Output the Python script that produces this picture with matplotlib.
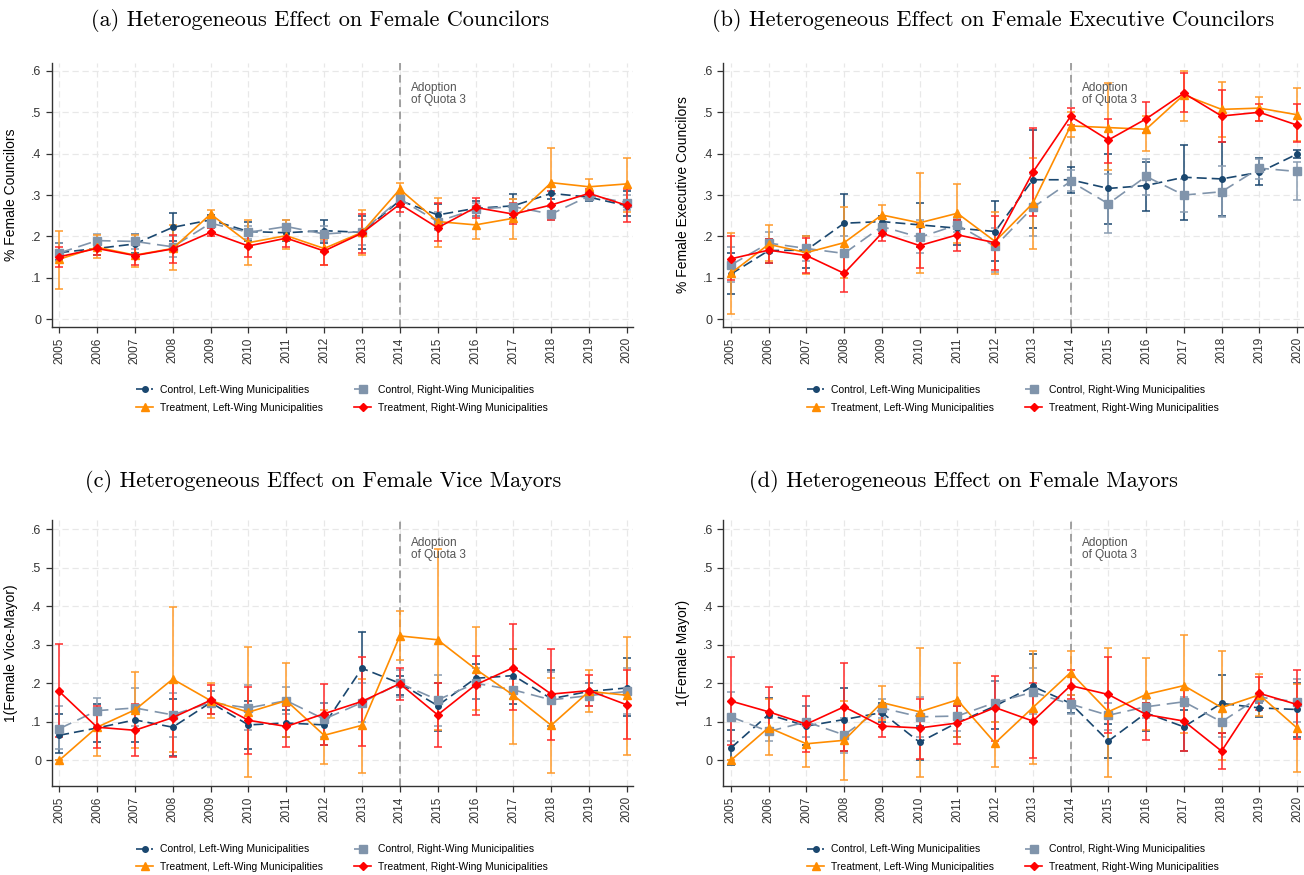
import matplotlib
matplotlib.use("Agg")
import matplotlib.pyplot as plt

plt.rcParams["font.family"] = ["Liberation Sans", "DejaVu Sans"]

YEARS = list(range(2005, 2021))
YTICKS = [0, 0.1, 0.2, 0.3, 0.4, 0.5, 0.6]
YTICK_LABELS = ["0", ".1", ".2", ".3", ".4", ".5", ".6"]
LEGEND_LABELS = [
    "Control, Left-Wing Municipalities",
    "Control, Right-Wing Municipalities",
    "Treatment, Left-Wing Municipalities",
    "Treatment, Right-Wing Municipalities",
]
ADOPTION_YEAR = 2014
ADOPTION_TEXT = "Adoption\nof Quota 3"

# (a) female councilors
A_CL = [0.161, 0.171, 0.182, 0.222, 0.240, 0.212, 0.209, 0.214, 0.210, 0.287, 0.252, 0.268, 0.274, 0.304, 0.295, 0.274]
A_CL_LO = [0.143, 0.155, 0.161, 0.188, 0.224, 0.190, 0.190, 0.185, 0.170, 0.270, 0.230, 0.250, 0.245, 0.290, 0.285, 0.250]
A_CL_HI = [0.185, 0.190, 0.206, 0.256, 0.252, 0.235, 0.230, 0.240, 0.250, 0.300, 0.278, 0.285, 0.302, 0.320, 0.305, 0.310]
A_CR = [0.160, 0.190, 0.188, 0.175, 0.232, 0.210, 0.224, 0.206, 0.212, 0.290, 0.236, 0.266, 0.272, 0.254, 0.298, 0.282]
A_CR_LO = [0.140, 0.175, 0.170, 0.150, 0.220, 0.195, 0.210, 0.190, 0.180, 0.275, 0.215, 0.250, 0.255, 0.240, 0.290, 0.265]
A_CR_HI = [0.185, 0.205, 0.205, 0.200, 0.245, 0.225, 0.240, 0.225, 0.240, 0.305, 0.260, 0.280, 0.290, 0.270, 0.310, 0.300]
A_TL = [0.145, 0.174, 0.155, 0.171, 0.254, 0.185, 0.202, 0.171, 0.210, 0.314, 0.236, 0.228, 0.244, 0.330, 0.320, 0.327]
A_TL_LO = [0.072, 0.147, 0.126, 0.119, 0.241, 0.130, 0.170, 0.130, 0.155, 0.300, 0.175, 0.193, 0.194, 0.250, 0.300, 0.260]
A_TL_HI = [0.214, 0.204, 0.204, 0.228, 0.264, 0.240, 0.240, 0.195, 0.263, 0.330, 0.292, 0.260, 0.290, 0.413, 0.340, 0.390]
A_TR = [0.151, 0.171, 0.154, 0.170, 0.210, 0.177, 0.196, 0.165, 0.208, 0.278, 0.221, 0.270, 0.254, 0.276, 0.304, 0.275]
A_TR_LO = [0.127, 0.155, 0.131, 0.137, 0.200, 0.150, 0.175, 0.130, 0.160, 0.260, 0.190, 0.245, 0.230, 0.240, 0.290, 0.234]
A_TR_HI = [0.175, 0.190, 0.180, 0.204, 0.220, 0.205, 0.220, 0.200, 0.255, 0.290, 0.280, 0.294, 0.280, 0.310, 0.315, 0.314]

# (b) female executive councilors
B_CL = [0.109, 0.166, 0.167, 0.232, 0.236, 0.228, 0.220, 0.212, 0.337, 0.337, 0.316, 0.323, 0.343, 0.339, 0.355, 0.399]
B_CL_LO = [0.060, 0.137, 0.125, 0.165, 0.220, 0.175, 0.180, 0.140, 0.220, 0.305, 0.230, 0.262, 0.240, 0.250, 0.325, 0.390]
B_CL_HI = [0.160, 0.195, 0.200, 0.302, 0.250, 0.280, 0.240, 0.285, 0.457, 0.367, 0.400, 0.380, 0.421, 0.427, 0.390, 0.410]
B_CR = [0.131, 0.184, 0.171, 0.159, 0.224, 0.198, 0.228, 0.176, 0.270, 0.333, 0.279, 0.345, 0.300, 0.308, 0.365, 0.357]
B_CR_LO = [0.090, 0.160, 0.140, 0.115, 0.200, 0.160, 0.210, 0.115, 0.200, 0.310, 0.209, 0.300, 0.260, 0.248, 0.340, 0.288]
B_CR_HI = [0.175, 0.210, 0.200, 0.200, 0.245, 0.240, 0.245, 0.220, 0.350, 0.360, 0.350, 0.387, 0.340, 0.370, 0.387, 0.380]
B_TL = [0.111, 0.181, 0.161, 0.185, 0.252, 0.233, 0.256, 0.188, 0.280, 0.467, 0.463, 0.459, 0.542, 0.507, 0.510, 0.494]
B_TL_LO = [0.013, 0.140, 0.110, 0.100, 0.230, 0.112, 0.185, 0.110, 0.169, 0.440, 0.360, 0.407, 0.480, 0.440, 0.480, 0.430]
B_TL_HI = [0.208, 0.228, 0.200, 0.272, 0.276, 0.354, 0.327, 0.260, 0.390, 0.500, 0.570, 0.490, 0.600, 0.574, 0.536, 0.558]
B_TR = [0.146, 0.167, 0.154, 0.111, 0.208, 0.178, 0.204, 0.185, 0.355, 0.490, 0.433, 0.484, 0.546, 0.491, 0.500, 0.469]
B_TR_LO = [0.095, 0.135, 0.112, 0.067, 0.190, 0.123, 0.165, 0.120, 0.250, 0.470, 0.378, 0.450, 0.500, 0.427, 0.480, 0.427]
B_TR_HI = [0.200, 0.195, 0.197, 0.155, 0.225, 0.230, 0.240, 0.250, 0.461, 0.511, 0.483, 0.526, 0.594, 0.554, 0.520, 0.520]

# (c) female vice mayors
C_CL = [0.065, 0.084, 0.105, 0.086, 0.150, 0.092, 0.097, 0.092, 0.239, 0.200, 0.142, 0.213, 0.220, 0.160, 0.179, 0.188]
C_CL_LO = [0.020, 0.047, 0.047, 0.010, 0.120, 0.030, 0.060, 0.040, 0.145, 0.170, 0.075, 0.159, 0.147, 0.090, 0.160, 0.114]
C_CL_HI = [0.120, 0.145, 0.140, 0.160, 0.180, 0.155, 0.130, 0.150, 0.334, 0.220, 0.200, 0.250, 0.290, 0.235, 0.200, 0.265]
C_CR = [0.082, 0.129, 0.136, 0.118, 0.150, 0.136, 0.155, 0.107, 0.150, 0.200, 0.157, 0.200, 0.183, 0.157, 0.168, 0.179]
C_CR_LO = [0.030, 0.090, 0.090, 0.060, 0.120, 0.080, 0.120, 0.060, 0.100, 0.165, 0.090, 0.160, 0.160, 0.090, 0.140, 0.120]
C_CR_HI = [0.140, 0.163, 0.188, 0.175, 0.180, 0.195, 0.190, 0.150, 0.200, 0.235, 0.222, 0.240, 0.210, 0.230, 0.200, 0.240]
C_TL = [0.000, 0.086, 0.131, 0.211, 0.155, 0.125, 0.155, 0.065, 0.091, 0.323, 0.313, 0.237, 0.169, 0.091, 0.179, 0.169]
C_TL_LO = [0.000, 0.010, 0.032, 0.021, 0.111, -0.043, 0.060, -0.009, -0.033, 0.261, 0.080, 0.130, 0.043, -0.033, 0.125, 0.013]
C_TL_HI = [0.000, 0.136, 0.229, 0.399, 0.202, 0.293, 0.252, 0.130, 0.210, 0.388, 0.548, 0.347, 0.290, 0.215, 0.235, 0.320]
C_TR = [0.179, 0.086, 0.078, 0.111, 0.156, 0.104, 0.088, 0.121, 0.153, 0.199, 0.118, 0.196, 0.241, 0.172, 0.181, 0.144]
C_TR_LO = [0.060, 0.032, 0.012, 0.008, 0.120, 0.016, 0.035, 0.040, 0.038, 0.157, 0.035, 0.117, 0.130, 0.054, 0.140, 0.056]
C_TR_HI = [0.302, 0.142, 0.145, 0.200, 0.195, 0.190, 0.140, 0.199, 0.268, 0.241, 0.200, 0.271, 0.354, 0.289, 0.222, 0.235]

# (d) female mayors
D_CL = [0.032, 0.119, 0.089, 0.106, 0.124, 0.047, 0.098, 0.141, 0.192, 0.148, 0.050, 0.123, 0.087, 0.148, 0.136, 0.132]
D_CL_LO = [-0.012, 0.070, 0.040, 0.025, 0.100, 0.000, 0.060, 0.082, 0.100, 0.124, 0.006, 0.076, 0.025, 0.070, 0.113, 0.060]
D_CL_HI = [0.080, 0.163, 0.140, 0.187, 0.150, 0.090, 0.140, 0.205, 0.277, 0.170, 0.095, 0.150, 0.130, 0.222, 0.150, 0.200]
D_CR = [0.113, 0.075, 0.100, 0.066, 0.136, 0.113, 0.115, 0.150, 0.177, 0.146, 0.117, 0.139, 0.152, 0.100, 0.164, 0.152]
D_CR_LO = [0.050, 0.050, 0.060, 0.020, 0.110, 0.060, 0.075, 0.100, 0.120, 0.120, 0.080, 0.110, 0.140, 0.060, 0.150, 0.100]
D_CR_HI = [0.178, 0.110, 0.141, 0.110, 0.160, 0.165, 0.155, 0.205, 0.240, 0.170, 0.150, 0.160, 0.165, 0.140, 0.170, 0.210]
D_TL = [0.000, 0.085, 0.043, 0.052, 0.150, 0.126, 0.157, 0.045, 0.137, 0.228, 0.126, 0.171, 0.194, 0.137, 0.170, 0.084]
D_TL_LO = [0.000, 0.014, -0.017, -0.051, 0.105, -0.042, 0.060, -0.017, -0.010, 0.170, -0.043, 0.080, 0.070, 0.000, 0.115, -0.030]
D_TL_HI = [0.000, 0.160, 0.100, 0.155, 0.193, 0.292, 0.253, 0.100, 0.283, 0.283, 0.292, 0.266, 0.325, 0.283, 0.225, 0.198]
D_TR = [0.154, 0.126, 0.094, 0.139, 0.089, 0.084, 0.097, 0.137, 0.102, 0.194, 0.171, 0.119, 0.102, 0.024, 0.174, 0.145]
D_TR_LO = [0.040, 0.065, 0.022, 0.025, 0.060, 0.003, 0.043, 0.050, 0.006, 0.160, 0.072, 0.054, 0.023, -0.023, 0.130, 0.056]
D_TR_HI = [0.269, 0.190, 0.167, 0.253, 0.120, 0.158, 0.140, 0.220, 0.200, 0.235, 0.268, 0.150, 0.183, 0.072, 0.216, 0.234]

# series styles: control-left, control-right, treatment-left, treatment-right
STYLES = [
    dict(color="#1a476f", ls=(0, (6, 3)), marker="o", ms=4, ecolor="#1a476f"),
    dict(color="#8094ab", ls=(0, (8, 4)), marker="s", ms=5.5, ecolor="#8a9db2"),
    dict(color="#ff8c00", ls="-", marker="^", ms=5.5, ecolor="#ff9a2a"),
    dict(color="#ff0000", ls="-", marker="D", ms=4.5, ecolor="#ff2a2a"),
]

PANELS = [
    dict(title="(a) Heterogeneous Effect on Female Councilors", ylabel="% Female Councilors",
         series=[(A_CL, A_CL_LO, A_CL_HI), (A_CR, A_CR_LO, A_CR_HI), (A_TL, A_TL_LO, A_TL_HI), (A_TR, A_TR_LO, A_TR_HI)],
         rect=[0.0396, 0.6266, 0.4458, 0.3014], ylim=(-0.018, 0.619), title_xy=(0.2454, 0.977)),
    dict(title="(b) Heterogeneous Effect on Female Executive Councilors", ylabel="% Female Executive Councilors",
         series=[(B_CL, B_CL_LO, B_CL_HI), (B_CR, B_CR_LO, B_CR_HI), (B_TL, B_TL_LO, B_TL_HI), (B_TR, B_TR_LO, B_TR_HI)],
         rect=[0.5547, 0.6266, 0.4446, 0.3014], ylim=(-0.018, 0.619), title_xy=(0.7615, 0.977)),
    dict(title="(c) Heterogeneous Effect on Female Vice Mayors", ylabel="1(Female Vice-Mayor)",
         series=[(C_CL, C_CL_LO, C_CL_HI), (C_CR, C_CR_LO, C_CR_HI), (C_TL, C_TL_LO, C_TL_HI), (C_TR, C_TR_LO, C_TR_HI)],
         rect=[0.0396, 0.102, 0.4458, 0.3037], ylim=(-0.066, 0.624), title_xy=(0.2477, 0.450)),
    dict(title="(d) Heterogeneous Effect on Female Mayors", ylabel="1(Female Mayor)",
         series=[(D_CL, D_CL_LO, D_CL_HI), (D_CR, D_CR_LO, D_CR_HI), (D_TL, D_TL_LO, D_TL_HI), (D_TR, D_TR_LO, D_TR_HI)],
         rect=[0.5547, 0.102, 0.4446, 0.3037], ylim=(-0.066, 0.624), title_xy=(0.7385, 0.450)),
]

fig = plt.figure(figsize=(13.04, 8.75), dpi=100)

for panel in PANELS:
    ax = fig.add_axes(panel["rect"])
    handles = []
    for (vals, lo, hi), st, label in zip(panel["series"], STYLES, LEGEND_LABELS):
        # confidence intervals with caps
        ax.vlines(YEARS, lo, hi, color=st["ecolor"], lw=1.1, zorder=2)
        ax.plot(YEARS, lo, ls="none", marker="_", ms=6, mew=1.1, color=st["ecolor"], zorder=2)
        ax.plot(YEARS, hi, ls="none", marker="_", ms=6, mew=1.1, color=st["ecolor"], zorder=2)
        line, = ax.plot(YEARS, vals, color=st["color"], ls=st["ls"], lw=1.2,
                        marker=st["marker"], ms=st["ms"], mec=st["color"], mfc=st["color"],
                        label=label, zorder=3)
        handles.append(line)

    ax.axvline(ADOPTION_YEAR, color="#8a8a8a", ls=(0, (5, 3)), lw=1.1, zorder=1)
    ax.text(ADOPTION_YEAR + 0.29, panel["ylim"][1] - 0.045, ADOPTION_TEXT, fontsize=8.5,
            color="#555555", va="top", ha="left", linespacing=1.0)

    ax.set_xlim(2004.8, 2020.16)
    ax.set_ylim(*panel["ylim"])
    ax.set_xticks(YEARS)
    ax.set_xticklabels([str(y) for y in YEARS], rotation=90, fontsize=8.5)
    ax.set_yticks(YTICKS)
    ax.set_yticklabels(YTICK_LABELS, fontsize=9)
    ax.grid(True, color="#e8e8e8", ls=(0, (5, 3)), lw=0.9, zorder=0)
    ax.set_axisbelow(True)
    for side in ("top", "right"):
        ax.spines[side].set_visible(False)
    for side in ("left", "bottom"):
        ax.spines[side].set_color("#333333")
        ax.spines[side].set_linewidth(1.0)
    ax.tick_params(colors="#333333", length=4, width=0.9)
    ax.set_ylabel(panel["ylabel"], fontsize=10)
    ax.yaxis.set_label_coords(-0.058, 0.5)

    ax.legend([handles[0], handles[2], handles[1], handles[3]],
              [LEGEND_LABELS[0], LEGEND_LABELS[2], LEGEND_LABELS[1], LEGEND_LABELS[3]],
              ncol=2, loc="upper center", bbox_to_anchor=(0.5, -0.185), frameon=False,
              fontsize=7.5, handlelength=1.6, handletextpad=0.7, columnspacing=3.0,
              labelspacing=0.75)

    fig.text(panel["title_xy"][0], panel["title_xy"][1], panel["title"], ha="center", va="center",
             fontsize=16, family="cmr10")

fig.savefig("out.png", dpi=100)
